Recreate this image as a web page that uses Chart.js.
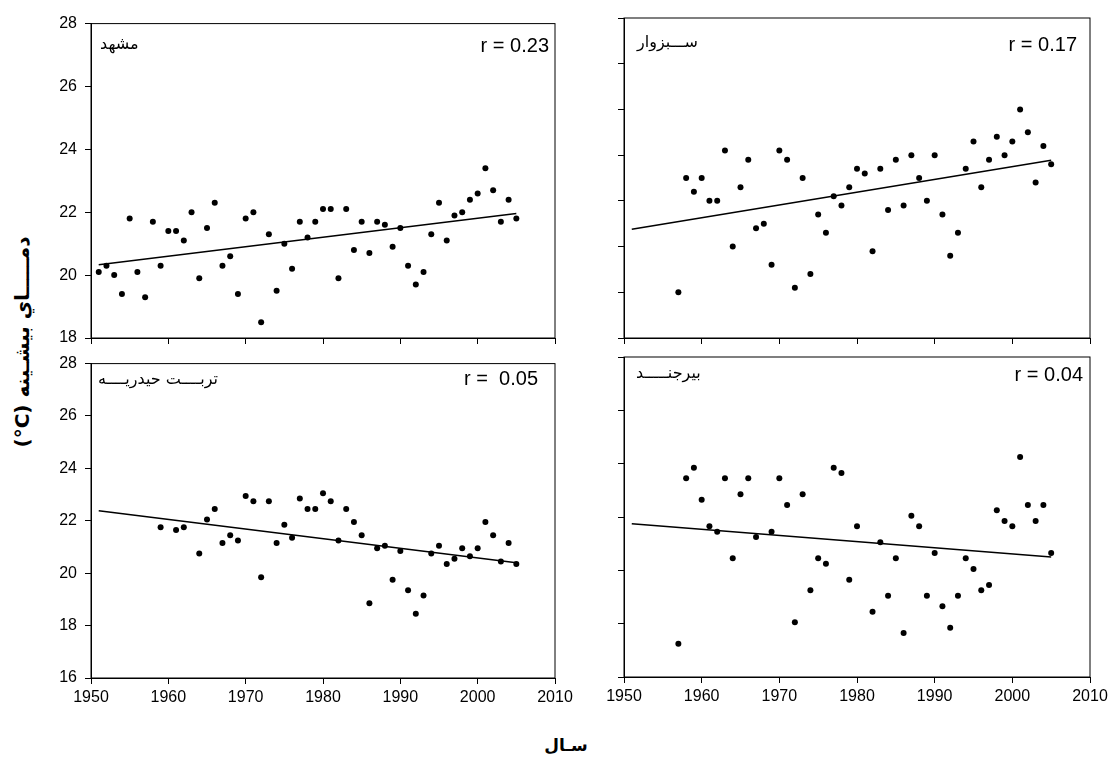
<!DOCTYPE html>
<html>
<head>
<meta charset="utf-8">
<script src="https://cdn.jsdelivr.net/npm/chart.js@4.4.1/dist/chart.umd.min.js"></script>
<style>
  body { margin: 0; background: #fff; width: 1113px; height: 778px; position: relative; overflow: hidden; }
  .title { position: absolute; font-family: "DejaVu Sans", sans-serif; font-weight: bold; color: #000; white-space: nowrap; }
</style>
</head>
<body>
<div class="title" dir="rtl" style="left:22px; top:342px; font-size:20px; transform: translate(-50%, -50%) rotate(-90deg);">دمـــــاي بيشـينه <span dir="ltr">(°C)</span></div>
<div class="title" dir="rtl" style="left:566px; top:745px; font-size:17px; transform: translate(-50%, -50%);">سـال</div>
<script>
const years = [1951, 1952, 1953, 1954, 1955, 1956, 1957, 1958, 1959, 1960,
  1961, 1962, 1963, 1964, 1965, 1966, 1967, 1968, 1969, 1970,
  1971, 1972, 1973, 1974, 1975, 1976, 1977, 1978, 1979, 1980,
  1981, 1982, 1983, 1984, 1985, 1986, 1987, 1988, 1989, 1990,
  1991, 1992, 1993, 1994, 1995, 1996, 1997, 1998, 1999, 2000,
  2001, 2002, 2003, 2004, 2005]

// Mashhad
const mashhad = [20.1, 20.3, 20.0, 19.4, 21.8, 20.1, 19.3, 21.7, 20.3, 21.4,
  21.4, 21.1, 22.0, 19.9, 21.5, 22.3, 20.3, 20.6, 19.4, 21.8,
  22.0, 18.5, 21.3, 19.5, 21.0, 20.2, 21.7, 21.2, 21.7, 22.1,
  22.1, 19.9, 22.1, 20.8, 21.7, 20.7, 21.7, 21.6, 20.9, 21.5,
  20.3, 19.7, 20.1, 21.3, 22.3, 21.1, 21.9, 22.0, 22.4, 22.6,
  23.4, 22.7, 21.7, 22.4, 21.8]

// Sabzevar
const sabzevar = [null, null, null, null, null, null, 20.0, 22.5, 22.2, 22.5,
  22.0, 22.0, 23.1, 21.0, 22.3, 22.9, 21.4, 21.5, 20.6, 23.1,
  22.9, 20.1, 22.5, 20.4, 21.7, 21.3, 22.1, 21.9, 22.3, 22.7,
  22.6, 20.9, 22.7, 21.8, 22.9, 21.9, 23.0, 22.5, 22.0, 23.0,
  21.7, 20.8, 21.3, 22.7, 23.3, 22.3, 22.9, 23.4, 23.0, 23.3,
  24.0, 23.5, 22.4, 23.2, 22.8]

// Torbat-e Heydarieh
const torbat = [null, null, null, null, null, null, null, null, 21.75, null,
  21.65, 21.75, null, 20.75, 22.05, 22.45, 21.15, 21.45, 21.25, 22.95,
  22.75, 19.85, 22.75, 21.15, 21.85, 21.35, 22.85, 22.45, 22.45, 23.05,
  22.75, 21.25, 22.45, 21.95, 21.45, 18.85, 20.95, 21.05, 19.75, 20.85,
  19.35, 18.45, 19.15, 20.75, 21.05, 20.35, 20.55, 20.95, 20.65, 20.95,
  21.95, 21.45, 20.45, 21.15, 20.35]

// Birjand
const birjand = [null, null, null, null, null, null, 17.25, 23.45, 23.85, 22.65,
  21.65, 21.45, 23.45, 20.45, 22.85, 23.45, 21.25, null, 21.45, 23.45,
  22.45, 18.05, 22.85, 19.25, 20.45, 20.25, 23.85, 23.65, 19.65, 21.65,
  null, 18.45, 21.05, 19.05, 20.45, 17.65, 22.05, 21.65, 19.05, 20.65,
  18.65, 17.85, 19.05, 20.45, 20.05, 19.25, 19.45, 22.25, 21.85, 21.65,
  24.25, 22.45, 21.85, 22.45, 20.65]

// trend line ends (1951 and 2005)
const trendYears = [1951, 2005]
const trendMashhad = [20.33, 21.96]
const trendSabzevar = [21.38, 22.89]
const trendTorbat = [22.38, 20.4]
const trendBirjand = [21.75, 20.5]

const xTicks = [1950, 1960, 1970, 1980, 1990, 2000, 2010]

Chart.defaults.font.family = "'Liberation Sans', Arial, 'DejaVu Sans', sans-serif"
Chart.defaults.color = "#000"

function toPoints(xs, ys) {
  return xs
    .map((x, i) => (ys[i] == null ? null : { x: x, y: ys[i] }))
    .filter((p) => p != null)
}

const boxAndText = {
  id: "boxAndText",
  afterDraw(chart, args, opts) {
    const { ctx, chartArea } = chart
    ctx.save()
    ctx.strokeStyle = "#000"
    ctx.lineWidth = 1
    ctx.strokeRect(chartArea.left, chartArea.top, chartArea.right - chartArea.left, chartArea.bottom - chartArea.top)

    ctx.fillStyle = "#000"
    ctx.textBaseline = "alphabetic"
    ctx.font = "16px 'DejaVu Sans', sans-serif"
    ctx.direction = "rtl"
    ctx.textAlign = "left"
    ctx.fillText(opts.name, chartArea.left + opts.nameDx, chartArea.top + opts.nameDy)

    ctx.direction = "ltr"
    ctx.font = "20px 'Liberation Sans', Arial, sans-serif"
    ctx.textAlign = "right"
    ctx.textBaseline = "middle"
    ctx.fillText(opts.r, chartArea.right - opts.rDx, chartArea.top + opts.rDy)
    ctx.restore()
  },
}

function makePanel(p) {
  const padL = 60, padT = 12, padR = 25, padB = 40
  const w = p.area.right - p.area.left + padL + padR
  const h = p.area.bottom - p.area.top + padT + padB
  const canvas = document.createElement("canvas")
  canvas.width = w
  canvas.height = h
  canvas.style.position = "absolute"
  canvas.style.left = p.area.left - padL + "px"
  canvas.style.top = p.area.top - padT + "px"
  canvas.style.width = w + "px"
  canvas.style.height = h + "px"
  document.body.appendChild(canvas)

  new Chart(canvas, {
    type: "scatter",
    data: {
      datasets: [
        {
          label: "values",
          data: toPoints(years, p.values),
          backgroundColor: "#000",
          borderColor: "#000",
          pointRadius: 3,
          pointBorderWidth: 0,
        },
        {
          type: "line",
          label: "trend",
          data: toPoints(trendYears, p.trend),
          borderColor: "#000",
          borderWidth: 1.5,
          pointRadius: 0,
          fill: false,
        },
      ],
    },
    options: {
      responsive: false,
      animation: false,
      devicePixelRatio: 1,
      layout: { padding: { left: 0, top: padT, right: padR, bottom: 0 } },
      plugins: {
        legend: { display: false },
        tooltip: { enabled: false },
        boxAndText: p.text,
      },
      scales: {
        x: {
          type: "linear",
          min: 1950,
          max: 2010,
          afterBuildTicks: (axis) => {
            axis.ticks = xTicks.map((v) => ({ value: v }))
          },
          afterFit: (axis) => {
            axis.height = padB
          },
          grid: { drawOnChartArea: false, drawTicks: true, tickLength: 6, color: "#000" },
          border: { display: true, color: "#000", width: 1 },
          ticks: {
            display: p.xLabels,
            padding: 4,
            font: { size: 16 },
            callback: (v) => String(v),
          },
        },
        y: {
          min: p.yMin,
          max: p.yMax,
          afterFit: (axis) => {
            axis.width = padL
          },
          grid: { drawOnChartArea: false, drawTicks: true, tickLength: 6, color: "#000" },
          border: { display: true, color: "#000", width: 1 },
          ticks: {
            display: p.yLabels,
            stepSize: p.yStep,
            padding: 8,
            font: { size: 16 },
          },
        },
      },
    },
    plugins: [boxAndText],
  })
}

makePanel({
  area: { left: 91, top: 18, right: 555, bottom: 338 },
  values: mashhad, trend: trendMashhad,
  yMin: 18, yMax: 28, yStep: 2, xLabels: false, yLabels: true,
  text: { name: "مشهد", nameDx: 9, nameDy: 25, r: "r = 0.23", rDx: 6, rDy: 23 },
})
makePanel({
  area: { left: 624, top: 18, right: 1090, bottom: 338 },
  values: sabzevar, trend: trendSabzevar,
  yMin: 19, yMax: 26, yStep: 1, xLabels: false, yLabels: false,
  text: { name: "ســـبزوار", nameDx: 13, nameDy: 29, r: "r = 0.17", rDx: 13, rDy: 27 },
})
makePanel({
  area: { left: 91, top: 358, right: 555, bottom: 678 },
  values: torbat, trend: trendTorbat,
  yMin: 16, yMax: 28, yStep: 2, xLabels: true, yLabels: true,
  text: { name: "تربــــت حيدريــــه", nameDx: 7, nameDy: 20, r: "r =  0.05", rDx: 17, rDy: 16 },
})
makePanel({
  area: { left: 624, top: 357, right: 1090, bottom: 677 },
  values: birjand, trend: trendBirjand,
  yMin: 16, yMax: 28, yStep: 2, xLabels: true, yLabels: false,
  text: { name: "بيرجنـــــد", nameDx: 12, nameDy: 21, r: "r = 0.04", rDx: 7, rDy: 18 },
})
</script>
</body>
</html>
